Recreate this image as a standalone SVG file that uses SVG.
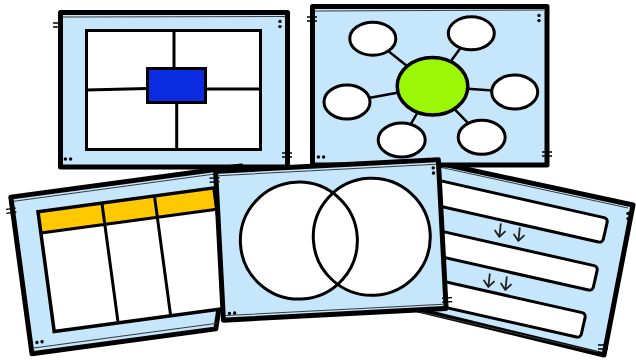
<svg xmlns="http://www.w3.org/2000/svg" xmlns:xlink="http://www.w3.org/1999/xlink" width="636" height="363" viewBox="0 0 636 363">
<style>
.frame{fill:#C5E6FB;stroke:#000;stroke-width:5;stroke-linejoin:round}
.box{fill:#fff;stroke:#000;stroke-width:3}
.ln{fill:none;stroke:#000;stroke-width:3}
.spoke{fill:none;stroke:#000;stroke-width:2.5}
.thin{fill:none;stroke:#3a3a3a;stroke-width:1}
.mk{fill:none;stroke:#000;stroke-width:1.4}
.arw{fill:none;stroke:#222;stroke-width:1.8;stroke-linecap:round;stroke-linejoin:round}
</style>
<defs>
<g id="tick"><path class="mk" d="M-5,-2 H5 M-5,2 H5"/></g>
<g id="dotsH"><circle cx="-2.6" cy="0" r="1.7"/><circle cx="2.6" cy="0" r="1.7"/></g>
<g id="dotsV"><circle cx="0" cy="-2.6" r="1.7"/><circle cx="0" cy="2.6" r="1.7"/></g>
<path id="arrow" class="arw" d="M0,-7 L0,6 M-5,0 L0,6 L5,0"/>
</defs>

<!-- Card 1: layout grid -->
<g id="card-grid">
<rect class="frame" x="60.5" y="12.5" width="227" height="154.5"/>
<path class="thin" d="M63,17 L285,16.5"/>
<rect class="box" x="86.5" y="30.5" width="174" height="119"/>
<path class="ln" d="M174,30.5 V68.5 M176.7,102.5 V149.5 M86.5,90 L147.5,88.5 M205.5,89 H260.5"/>
<rect x="147.5" y="68.5" width="58" height="34" fill="#0A2BE0" stroke="#000" stroke-width="3"/>
<use href="#tick" x="58" y="25"/>
<use href="#dotsV" x="280" y="24"/>
<use href="#dotsH" x="68" y="159"/>
<use href="#tick" x="287" y="155"/>
</g>

<!-- Card 5: sequence bars -->
<g id="card-sequence">
<polygon class="frame" points="415,158 633,205 604,355 410,308"/>
<path class="thin" d="M430,165 L628,208 M420,312 L598,352"/>
<rect class="box" x="-200" y="0" width="200" height="25" rx="4" transform="translate(608,218.5) rotate(12.7)"/>
<rect class="box" x="-200" y="0" width="200" height="25" rx="4" transform="translate(598,266.5) rotate(12.7)"/>
<rect class="box" x="-200" y="0" width="200" height="25" rx="4" transform="translate(586,313.5) rotate(12.7)"/>
<use href="#arrow" transform="translate(500,231) rotate(6)"/>
<use href="#arrow" transform="translate(519,235) rotate(6)"/>
<use href="#arrow" transform="translate(489,281) rotate(6)"/>
<use href="#arrow" transform="translate(506,284) rotate(6)"/>
<use href="#dotsV" x="628" y="216"/>
<use href="#tick" x="603" y="347"/>
</g>

<!-- Card 2: bubble map -->
<g id="card-bubble">
<rect class="frame" x="312.5" y="6.5" width="234.5" height="158.5"/>
<path class="thin" d="M315,11 L544,10"/>
<path class="spoke" d="M432.5,86.3 L372.8,38.7 M432.5,86.3 L471.3,33.3 M432.5,86.3 L347,102 M432.5,86.3 L514.7,92 M432.5,86.3 L401.7,140 M432.5,86.3 L481.7,137.2"/>
<ellipse cx="432.5" cy="86.3" rx="35.3" ry="28.8" fill="#9AF706" stroke="#000" stroke-width="3.5"/>
<ellipse class="box" cx="372.8" cy="38.7" rx="23" ry="16.5"/>
<ellipse class="box" cx="471.3" cy="33.3" rx="23" ry="16.5"/>
<ellipse class="box" cx="347" cy="102" rx="23" ry="17"/>
<ellipse class="box" cx="514.7" cy="92" rx="23" ry="17"/>
<ellipse class="box" cx="401.7" cy="140" rx="23.5" ry="17"/>
<ellipse class="box" cx="481.7" cy="137.2" rx="23.5" ry="17"/>
<use href="#tick" x="312" y="19"/>
<use href="#dotsV" x="539" y="18"/>
<use href="#dotsH" x="321" y="157"/>
<use href="#tick" x="547" y="154"/>
</g>

<!-- Card 3: three-column table -->
<g id="card-table" transform="translate(8,195) rotate(-7.7)">
<polygon class="frame" points="2.5,2.5 235,2.5 188,160.5 2.5,160.5"/>
<path class="thin" d="M5,7 L230,7 M5,155 L190,155"/>
<rect x="27.5" y="20.5" width="177.5" height="121" fill="#fff"/>
<rect x="27.5" y="20.5" width="177.5" height="21.5" fill="#FFC800"/>
<path class="ln" d="M27.5,42 H205 M92,20.5 V141.5 M145,20.5 V141.5"/>
<rect x="27.5" y="20.5" width="177.5" height="121" fill="none" stroke="#000" stroke-width="3.5"/>
<use href="#tick" x="1" y="16"/>
<use href="#dotsH" x="11.5" y="150"/>
</g>

<!-- Card 4: Venn diagram -->
<g id="card-venn" transform="translate(213,169) rotate(-3)">
<rect class="frame" x="2.5" y="2.5" width="223" height="149"/>
<path class="thin" d="M5,7 L223,7 M5,147 L223,147"/>
<circle cx="82" cy="76" r="58.5" fill="#fff"/>
<circle cx="155" cy="76" r="58.5" fill="#fff"/>
<circle cx="82" cy="76" r="58.5" fill="none" stroke="#000" stroke-width="3"/>
<circle cx="155" cy="76" r="58.5" fill="none" stroke="#000" stroke-width="3"/>
<use href="#tick" x="1" y="11"/>
<use href="#dotsV" x="220" y="13"/>
<use href="#dotsH" x="11.5" y="145"/>
<use href="#tick" x="227" y="143"/>
</g>
</svg>
